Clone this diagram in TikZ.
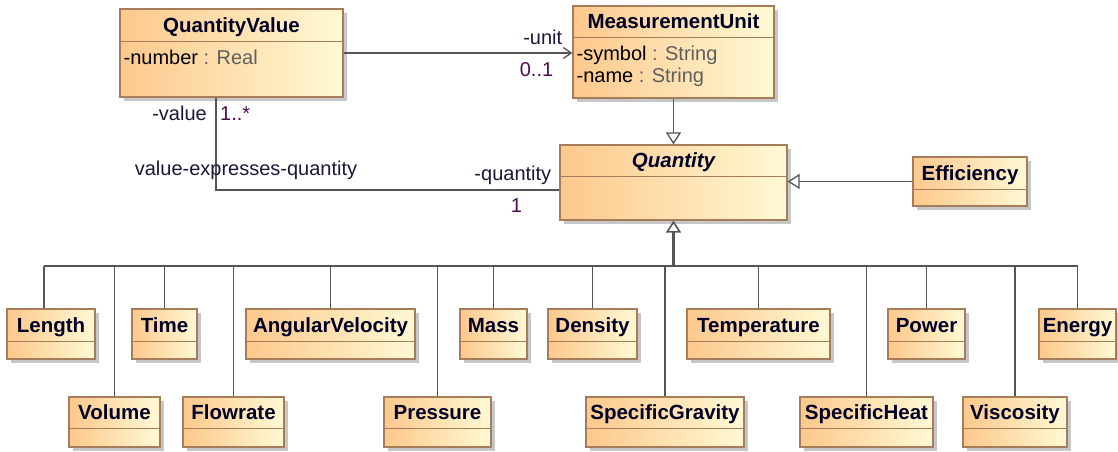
\documentclass[tikz,border=0pt]{standalone}
\usepackage{fontspec}
\setmainfont{Liberation Sans}
\usetikzlibrary{arrows.meta,shadows}
\definecolor{boxleft}{RGB}{253,200,140}
\definecolor{boxright}{RGB}{255,249,212}
\definecolor{boxedge}{RGB}{165,125,90}
\definecolor{linegray}{RGB}{85,85,85}
\definecolor{typegray}{RGB}{95,95,95}
\definecolor{rolecol}{RGB}{25,25,60}
\definecolor{multcol}{RGB}{80,10,80}
% class box: name, x1, y1, x2, y2, header height, title
\newcommand\umlbox[7]{%
  \node[classbox, minimum width={(#4-#2)*1pt}, minimum height={(#5-#3)*1pt}] (#1) at ({(#2+#4)/2},{(#3+#5)/2}) {};
  \draw[boxedge, line width=1.2pt] ([yshift=-#6pt]#1.north west) -- ([yshift=-#6pt]#1.north east);
  \node[classname] (#1-name) at ([yshift=-#6pt/2]#1.north) {#7};
}

\begin{document}
\begin{tikzpicture}[x=1pt,y=-1pt,
    classbox/.style={draw=boxedge, line width=1.2pt, left color=boxleft, right color=boxright,
      inner sep=0pt, drop shadow={shadow xshift=4pt, shadow yshift=-4pt, fill=black!22, opacity=1}},
    txt/.style={inner sep=0pt, text height=14.4pt, text depth=0pt, font=\fontsize{20}{24}\selectfont},
    classname/.style={txt, font=\fontsize{20.5}{24}\selectfont\bfseries, text=black!85!blue},
    attr/.style={txt, anchor=west},
    role/.style={txt, text=rolecol},
    mult/.style={txt, text=multcol},
    conn/.style={draw=linegray, line width=1.3pt},
    assoc/.style={conn, -{Straight Barb[length=8pt,width=11pt]}},
    gen/.style={conn, -{Triangle[open,fill=white,length=12pt,width=15pt]}}]
  \path[use as bounding box, fill=white] (0,0) rectangle (1118,451);

  \umlbox{qv}{120}{9}{343}{97}{33}{QuantityValue}
  \umlbox{mu}{573}{6}{774}{98}{32}{MeasurementUnit}
  \umlbox{qnt}{560}{145}{787}{220}{32}{\itshape Quantity}
  \umlbox{eff}{913}{157}{1027}{206}{33}{Efficiency}
  \node[attr] (qv-num) at ([xshift=4pt,yshift=-49pt]qv.north west) {-number \textcolor{typegray}{: Real}};
  \node[attr] (mu-sym) at ([xshift=4pt,yshift=-48pt]mu.north west) {-symbol \textcolor{typegray}{: String}};
  \node[attr] (mu-nam) at ([xshift=4pt,yshift=-70pt]mu.north west) {-name \textcolor{typegray}{: String}};

  % quantity kinds
  \foreach \n/\a/\b/\t in {len/7/95/Length, time/132/197/Time, angv/246/415/AngularVelocity,
      mass/460/527/Mass, dens/548/637/Density, temp/687/830/Temperature,
      pow/888/965/Power, en/1039/1116/Energy}
    {\umlbox{\n}{\a}{309}{\b}{359}{33}{\t}}
  \foreach \n/\a/\b/\t in {vol/69/160/Volume, flow/183/284/Flowrate, pres/384/491/Pressure,
      sg/586/744/SpecificGravity, sh/800/933/SpecificHeat, visc/963/1067/Viscosity}
    {\umlbox{\n}{\a}{397}{\b}{447}{32}{\t}}

  % associations
  \draw[assoc] (qv.east) -- (qv.east -| mu.west);
  \node[role, anchor=east] (unit-role) at ([xshift=-10pt,yshift=15pt]mu.west) {-unit};
  \node[mult, anchor=east] (unit-mult) at ([xshift=-19pt,yshift=-17pt]mu.west) {0..1};
  \coordinate (vend) at ([xshift=-15.5pt]qv.south);
  \coordinate (qend) at ([yshift=-7.5pt]qnt.west);
  \draw[conn] (vend) |- (qend);
  \node[role, anchor=east] (value-role) at ([xshift=-9pt,yshift=-16pt]vend) {-value};
  \node[mult, anchor=west] (value-mult) at ([xshift=4pt,yshift=-16pt]vend) {1..*};
  \node[role] (assoc-name) at ([xshift=30pt,yshift=-71pt]vend) {value-expresses-quantity};
  \node[role, anchor=east] (qnt-role) at ([xshift=-8pt,yshift=17pt]qend) {-quantity};
  \node[mult] (qnt-mult) at ([xshift=-43pt,yshift=-15pt]qend) {1};

  % generalizations
  \draw[gen] (mu.south) -- (qnt.north);
  \draw[gen] (eff.west) -- (eff.west -| qnt.east);
  \coordinate (bus) at (qnt.south |- 0,266);
  \coordinate (lenjoint) at ([xshift=-7pt]len.north);
  \draw[conn] (lenjoint |- bus) -- (en.north |- bus);
  \draw[conn] (lenjoint) -- (lenjoint |- bus);
  \foreach \n in {vol,time,flow,angv,pres,mass,dens,sg,temp,sh,pow,visc,en}
    \draw[conn] (\n.north) -- (\n.north |- bus);
  \draw[gen, line width=2.6pt, -{Triangle[open,fill=white,length=12pt,width=15pt,line width=1.6pt]}] (bus) -- (qnt.south);
\end{tikzpicture}
\end{document}
